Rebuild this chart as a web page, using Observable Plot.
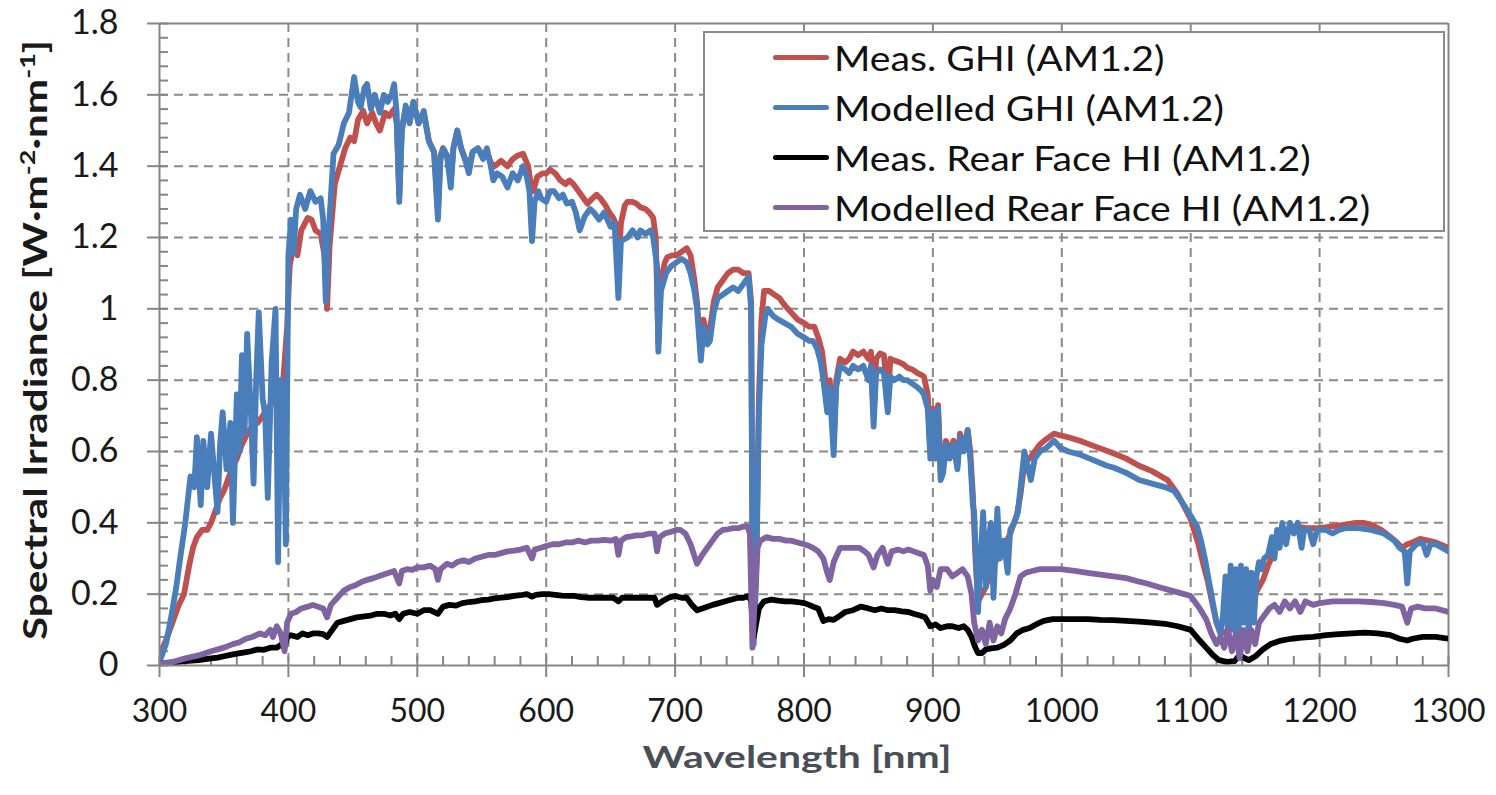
<!DOCTYPE html>
<html>
<head>
<meta charset="utf-8">
<script src="https://cdn.jsdelivr.net/npm/d3@7"></script>
<script src="https://cdn.jsdelivr.net/npm/@observablehq/plot@0.6"></script>
<style>
  html, body { margin: 0; padding: 0; background: #fff; }
  #wrap { position: relative; width: 1496px; height: 795px; font-family: Lato, "Open Sans", sans-serif; }
  #legend { position: absolute; left: 703px; top: 31px; width: 738px; height: 197px; background: #fff; border: 2px solid #8a8a8a; box-sizing: content-box; }
  .row { position: absolute; left: 68px; height: 40px; display: flex; align-items: center; font-size: 35px; color: #111; white-space: nowrap; }
  .row span { display: inline-block; transform: scaleX(1.12); transform-origin: left center; }
  .sw { width: 56px; height: 5px; border-radius: 3px; margin-right: 5px; }
</style>
</head>
<body>
<div id="wrap"></div>
<script>
// ---- data (wavelength nm, spectral irradiance W·m^-2·nm^-1) ----
const seriesNames = ["Meas. GHI (AM1.2)", "Modelled GHI (AM1.2)", "Meas. Rear Face HI (AM1.2)", "Modelled Rear Face HI (AM1.2)"];
const seriesColors = ["#c0504d", "#4a7ebb", "#000000", "#8064a2"];
const xTicks = [300, 400, 500, 600, 700, 800, 900, 1000, 1100, 1200, 1300];
const yTicks = [0, 0.2, 0.4, 0.6, 0.8, 1, 1.2, 1.4, 1.6, 1.8];
const yTickLabels = ["0", "0.2", "0.4", "0.6", "0.8", "1", "1.2", "1.4", "1.6", "1.8"];

const measGHI = [[300,0.03],[305,0.07],[310,0.12],[315,0.17],[319,0.2],[323,0.28],[326,0.33],[329,0.36],[333,0.38],[337,0.38],[340,0.4],[344,0.44],[347,0.47],[350,0.49],[353,0.52],[356,0.55],[360,0.58],[364,0.62],[368,0.65],[372,0.67],[376,0.68],[380,0.7],[384,0.72],[388,0.74],[392,0.76],[396,0.8],[399,0.95],[401,1.12],[404,1.18],[407,1.15],[410,1.22],[415,1.255],[418,1.25],[421,1.22],[425,1.21],[428,1.15],[430,1.0],[432,1.18],[436,1.35],[440,1.4],[444,1.45],[448,1.48],[451,1.47],[454,1.53],[458,1.555],[461,1.52],[465,1.55],[468,1.52],[471,1.5],[475,1.55],[478,1.54],[482,1.56],[484,1.52],[486,1.32],[488,1.5],[491,1.56],[494,1.53],[497,1.58],[501,1.52],[505,1.55],[509,1.47],[513,1.44],[516,1.27],[518,1.43],[520,1.45],[523,1.43],[526,1.36],[528,1.45],[531,1.5],[534,1.45],[537,1.42],[540,1.4],[543,1.44],[547,1.45],[551,1.43],[554,1.44],[557,1.41],[560,1.4],[565,1.415],[570,1.4],[574,1.42],[578,1.43],[582,1.435],[586,1.4],[588,1.35],[590,1.33],[593,1.37],[597,1.38],[600,1.38],[603,1.39],[607,1.38],[611,1.36],[615,1.35],[618,1.36],[621,1.35],[625,1.33],[629,1.31],[632,1.295],[636,1.31],[639,1.32],[642,1.31],[646,1.29],[649,1.27],[652,1.255],[655,1.23],[656,1.12],[658,1.24],[661,1.29],[663,1.3],[667,1.3],[670,1.295],[673,1.285],[677,1.28],[680,1.27],[683,1.255],[685,1.2],[687,0.9],[689,1.08],[692,1.13],[694,1.145],[698,1.15],[701,1.15],[705,1.16],[709,1.17],[712,1.15],[715,1.08],[717,1.02],[720,0.87],[722,0.97],[725,0.92],[727,0.94],[730,1.02],[733,1.06],[737,1.08],[741,1.1],[745,1.11],[749,1.11],[753,1.1],[757,1.1],[759,1.02],[760,0.35],[761,0.1],[763,0.3],[765,0.75],[767,0.97],[769,1.05],[773,1.05],[777,1.04],[781,1.03],[785,1.01],[790,0.99],[795,0.97],[800,0.96],[804,0.95],[808,0.95],[811,0.92],[814,0.88],[816,0.82],[818,0.74],[820,0.8],[823,0.62],[825,0.8],[828,0.86],[832,0.85],[835,0.86],[838,0.88],[842,0.87],[846,0.88],[850,0.86],[852,0.88],[854,0.7],[856,0.86],[859,0.875],[862,0.87],[865,0.74],[867,0.86],[870,0.855],[874,0.85],[877,0.845],[880,0.835],[884,0.83],[888,0.82],[891,0.815],[893,0.81],[896,0.76],[898,0.6],[900,0.72],[902,0.6],[904,0.73],[906,0.54],[908,0.56],[910,0.63],[913,0.6],[916,0.63],[919,0.56],[921,0.65],[924,0.61],[927,0.66],[929,0.6],[931,0.48],[933,0.3],[935,0.18],[938,0.2],[941,0.22],[945,0.27],[950,0.3],[955,0.33],[960,0.37],[965,0.42],[968,0.48],[971,0.57],[975,0.58],[979,0.6],[983,0.62],[988,0.635],[994,0.65],[999,0.645],[1005,0.64],[1014,0.63],[1025,0.615],[1040,0.595],[1050,0.58],[1060,0.56],[1070,0.545],[1082,0.52],[1090,0.48],[1100,0.41],[1106,0.34],[1110,0.28],[1113,0.24],[1117,0.17],[1120,0.12],[1124,0.09],[1130,0.1],[1135,0.12],[1140,0.14],[1145,0.17],[1150,0.2],[1156,0.24],[1160,0.28],[1165,0.32],[1170,0.36],[1175,0.38],[1180,0.39],[1190,0.385],[1200,0.385],[1210,0.39],[1220,0.395],[1228,0.4],[1234,0.4],[1240,0.395],[1248,0.38],[1255,0.36],[1260,0.345],[1264,0.33],[1268,0.34],[1272,0.345],[1278,0.355],[1284,0.35],[1290,0.345],[1300,0.33]];

const modGHI = [[300,0.01],[305,0.06],[309,0.135],[313,0.22],[316,0.3],[320,0.4],[324,0.53],[327,0.5],[329,0.64],[332,0.45],[334,0.63],[337,0.5],[340,0.65],[345,0.43],[347,0.62],[349,0.71],[352,0.55],[355,0.68],[357,0.4],[360,0.76],[362,0.6],[364,0.87],[366,0.65],[368,0.93],[371,0.7],[373,0.51],[375,0.8],[377,0.99],[380,0.75],[382,0.7],[384,0.47],[387,0.85],[390,1.0],[392,0.29],[394,0.8],[396,0.79],[398,0.34],[400,1.15],[402,1.25],[404,1.155],[406,1.28],[409,1.32],[413,1.28],[417,1.33],[421,1.3],[425,1.31],[427,1.25],[429,1.02],[431,1.2],[435,1.435],[439,1.46],[443,1.52],[447,1.55],[451,1.65],[454,1.58],[456,1.565],[459,1.62],[461,1.63],[464,1.56],[467,1.6],[471,1.55],[474,1.6],[477,1.58],[480,1.6],[482,1.63],[484,1.55],[486,1.3],[488,1.5],[491,1.57],[494,1.52],[497,1.58],[501,1.52],[505,1.555],[509,1.47],[513,1.44],[516,1.25],[518,1.42],[520,1.45],[523,1.43],[526,1.34],[528,1.45],[531,1.5],[534,1.45],[537,1.42],[540,1.38],[543,1.44],[547,1.45],[551,1.42],[554,1.45],[557,1.4],[559,1.36],[562,1.38],[566,1.37],[570,1.34],[574,1.38],[578,1.36],[582,1.4],[585,1.37],[587,1.33],[589,1.19],[591,1.3],[594,1.33],[596,1.31],[600,1.3],[603,1.33],[606,1.33],[610,1.31],[613,1.32],[616,1.295],[620,1.3],[623,1.27],[626,1.22],[630,1.26],[634,1.28],[637,1.27],[641,1.25],[645,1.27],[650,1.23],[653,1.24],[656,1.03],[658,1.19],[663,1.2],[667,1.22],[671,1.2],[673,1.22],[677,1.21],[681,1.22],[683,1.2],[686,1.12],[687,0.88],[689,1.05],[693,1.1],[697,1.12],[701,1.13],[705,1.14],[709,1.13],[712,1.1],[715,1.05],[717,1.0],[720,0.855],[722,0.95],[725,0.9],[727,0.91],[730,0.99],[733,1.03],[737,1.04],[741,1.05],[745,1.06],[749,1.05],[753,1.07],[757,1.09],[759,1.0],[760,0.3],[761,0.06],[763,0.25],[765,0.7],[767,0.9],[770,0.98],[772,1.0],[776,0.98],[780,0.97],[785,0.96],[790,0.95],[795,0.93],[800,0.92],[804,0.91],[807,0.91],[810,0.89],[813,0.85],[815,0.8],[818,0.71],[820,0.78],[823,0.59],[825,0.78],[828,0.84],[832,0.83],[835,0.82],[838,0.84],[842,0.83],[846,0.84],[850,0.8],[852,0.84],[854,0.67],[856,0.82],[859,0.83],[862,0.82],[865,0.71],[867,0.81],[870,0.8],[874,0.81],[877,0.8],[880,0.8],[884,0.79],[888,0.78],[891,0.77],[893,0.76],[896,0.72],[898,0.58],[900,0.71],[902,0.58],[904,0.72],[906,0.52],[908,0.54],[910,0.62],[913,0.58],[916,0.62],[919,0.55],[921,0.64],[924,0.6],[927,0.66],[929,0.58],[931,0.45],[932,0.43],[934,0.25],[935,0.15],[937,0.3],[939,0.43],[941,0.22],[943,0.35],[945,0.4],[947,0.19],[949,0.35],[950,0.44],[952,0.3],[955,0.35],[958,0.26],[960,0.38],[963,0.4],[966,0.43],[968,0.5],[971,0.6],[974,0.55],[976,0.52],[979,0.58],[983,0.6],[988,0.61],[994,0.63],[999,0.61],[1005,0.6],[1015,0.59],[1025,0.575],[1035,0.56],[1040,0.555],[1050,0.54],[1060,0.52],[1070,0.51],[1080,0.5],[1087,0.49],[1093,0.46],[1100,0.42],[1105,0.39],[1108,0.35],[1111,0.3],[1114,0.24],[1117,0.18],[1120,0.12],[1123,0.09],[1125,0.14],[1127,0.25],[1129,0.08],[1131,0.28],[1133,0.1],[1135,0.27],[1137,0.07],[1139,0.28],[1141,0.12],[1143,0.27],[1145,0.08],[1147,0.26],[1149,0.12],[1151,0.25],[1153,0.29],[1155,0.27],[1157,0.3],[1160,0.31],[1163,0.36],[1165,0.3],[1167,0.38],[1169,0.33],[1171,0.4],[1174,0.34],[1177,0.4],[1180,0.37],[1183,0.4],[1186,0.33],[1188,0.38],[1192,0.38],[1195,0.34],[1198,0.38],[1205,0.38],[1210,0.37],[1215,0.38],[1220,0.385],[1230,0.385],[1240,0.38],[1250,0.37],[1258,0.35],[1262,0.33],[1266,0.32],[1268,0.23],[1270,0.32],[1275,0.34],[1280,0.345],[1283,0.31],[1286,0.34],[1290,0.34],[1295,0.33],[1300,0.32]];

const measRear = [[300,0.005],[310,0.008],[320,0.012],[330,0.015],[340,0.02],[345,0.022],[350,0.026],[355,0.03],[360,0.033],[365,0.036],[371,0.04],[376,0.045],[381,0.044],[386,0.05],[391,0.05],[395,0.06],[397,0.05],[399,0.08],[402,0.085],[407,0.08],[411,0.09],[415,0.085],[419,0.09],[423,0.09],[427,0.088],[430,0.08],[434,0.1],[438,0.12],[443,0.125],[448,0.13],[453,0.135],[459,0.138],[464,0.14],[469,0.145],[474,0.145],[479,0.14],[483,0.145],[486,0.13],[489,0.145],[494,0.15],[500,0.145],[505,0.155],[510,0.155],[516,0.145],[520,0.165],[525,0.17],[530,0.168],[535,0.175],[540,0.178],[545,0.18],[550,0.183],[555,0.185],[560,0.188],[565,0.19],[570,0.192],[575,0.195],[580,0.197],[585,0.2],[589,0.193],[592,0.198],[597,0.2],[602,0.2],[607,0.198],[612,0.196],[617,0.195],[622,0.195],[627,0.192],[632,0.19],[637,0.19],[642,0.19],[647,0.19],[652,0.19],[656,0.18],[659,0.19],[664,0.19],[669,0.19],[674,0.19],[679,0.19],[684,0.19],[686,0.17],[690,0.18],[695,0.19],[700,0.195],[705,0.19],[709,0.19],[713,0.17],[717,0.155],[721,0.16],[725,0.165],[729,0.17],[734,0.175],[739,0.18],[744,0.185],[749,0.19],[753,0.19],[757,0.195],[759,0.18],[761,0.08],[763,0.12],[765,0.16],[769,0.18],[775,0.185],[780,0.182],[785,0.18],[790,0.18],[795,0.178],[800,0.175],[804,0.17],[807,0.165],[811,0.16],[815,0.125],[819,0.13],[823,0.128],[828,0.14],[832,0.15],[838,0.155],[844,0.165],[850,0.16],[855,0.155],[860,0.16],[865,0.155],[870,0.155],[876,0.152],[881,0.15],[885,0.145],[890,0.14],[894,0.135],[898,0.11],[902,0.115],[906,0.105],[911,0.11],[915,0.11],[920,0.105],[924,0.11],[927,0.1],[930,0.08],[933,0.05],[935,0.035],[938,0.035],[941,0.045],[945,0.048],[950,0.05],[955,0.058],[960,0.07],[965,0.09],[970,0.1],[975,0.105],[980,0.115],[986,0.125],[993,0.13],[1000,0.13],[1010,0.13],[1020,0.13],[1030,0.128],[1040,0.127],[1050,0.125],[1060,0.123],[1070,0.12],[1080,0.117],[1090,0.11],[1100,0.1],[1107,0.07],[1112,0.05],[1117,0.03],[1122,0.015],[1128,0.01],[1134,0.012],[1138,0.03],[1141,0.022],[1145,0.015],[1150,0.025],[1156,0.045],[1162,0.06],[1170,0.07],[1178,0.075],[1186,0.078],[1195,0.08],[1205,0.085],[1215,0.088],[1225,0.09],[1235,0.092],[1245,0.09],[1255,0.085],[1262,0.075],[1268,0.07],[1272,0.075],[1280,0.08],[1290,0.08],[1300,0.075]];

const modRear = [[300,0.005],[310,0.01],[320,0.02],[332,0.03],[340,0.04],[350,0.05],[357,0.06],[362,0.065],[367,0.075],[372,0.08],[378,0.09],[382,0.085],[386,0.1],[388,0.08],[391,0.11],[394,0.09],[397,0.04],[399,0.12],[402,0.145],[406,0.15],[410,0.16],[415,0.165],[419,0.17],[423,0.165],[427,0.16],[430,0.135],[433,0.17],[438,0.19],[443,0.21],[448,0.22],[452,0.225],[457,0.235],[461,0.24],[466,0.245],[470,0.25],[474,0.255],[478,0.26],[482,0.265],[486,0.23],[488,0.265],[492,0.27],[496,0.268],[500,0.275],[505,0.275],[510,0.28],[514,0.27],[516,0.24],[518,0.27],[523,0.285],[527,0.28],[531,0.29],[536,0.295],[540,0.29],[545,0.3],[550,0.305],[555,0.31],[560,0.31],[565,0.315],[570,0.32],[575,0.322],[580,0.325],[585,0.33],[589,0.3],[591,0.325],[596,0.33],[600,0.335],[605,0.34],[610,0.34],[615,0.345],[620,0.345],[625,0.35],[630,0.345],[635,0.35],[640,0.35],[645,0.352],[650,0.35],[654,0.355],[656,0.31],[658,0.35],[662,0.36],[666,0.362],[670,0.365],[675,0.365],[680,0.37],[684,0.37],[686,0.32],[688,0.36],[692,0.37],[697,0.375],[701,0.38],[704,0.38],[708,0.37],[712,0.34],[717,0.285],[721,0.31],[725,0.33],[729,0.35],[733,0.37],[737,0.38],[741,0.382],[745,0.385],[749,0.385],[753,0.39],[756,0.39],[758,0.37],[760,0.05],[762,0.2],[764,0.33],[766,0.35],[771,0.36],[776,0.355],[781,0.355],[786,0.35],[790,0.35],[795,0.345],[800,0.34],[804,0.335],[807,0.33],[811,0.32],[815,0.3],[818,0.26],[820,0.24],[823,0.29],[828,0.33],[832,0.33],[838,0.33],[843,0.33],[847,0.32],[850,0.31],[854,0.275],[857,0.31],[861,0.33],[865,0.285],[868,0.32],[873,0.325],[877,0.32],[881,0.325],[885,0.32],[889,0.315],[893,0.31],[896,0.28],[898,0.21],[900,0.24],[903,0.22],[906,0.27],[911,0.27],[915,0.25],[919,0.26],[923,0.27],[927,0.25],[930,0.2],[932,0.12],[935,0.07],[938,0.1],[941,0.06],[944,0.12],[947,0.07],[950,0.11],[953,0.09],[956,0.13],[960,0.16],[964,0.2],[968,0.25],[972,0.26],[977,0.265],[983,0.27],[990,0.27],[999,0.27],[1010,0.265],[1020,0.26],[1030,0.255],[1040,0.25],[1050,0.245],[1060,0.235],[1066,0.23],[1075,0.22],[1085,0.21],[1095,0.2],[1100,0.195],[1107,0.16],[1112,0.13],[1116,0.09],[1120,0.06],[1123,0.08],[1126,0.05],[1129,0.1],[1132,0.04],[1135,0.09],[1138,0.02],[1141,0.1],[1144,0.04],[1147,0.1],[1150,0.06],[1153,0.12],[1157,0.14],[1161,0.16],[1165,0.17],[1169,0.15],[1173,0.18],[1177,0.16],[1181,0.18],[1185,0.15],[1189,0.18],[1195,0.17],[1200,0.175],[1210,0.18],[1220,0.18],[1230,0.18],[1240,0.178],[1250,0.175],[1258,0.17],[1264,0.165],[1268,0.12],[1271,0.16],[1276,0.165],[1282,0.16],[1290,0.16],[1300,0.15]];

const minorX = d3.range(300, 1301, 20);
const minorY = d3.range(0, 46).map(i => i * 0.04);

// ---- layout ----
const W = 1496, H = 795;
const mL = 159, mR = 48, mT = 23, mB = 130;
const innerW = W - mL - mR, innerH = H - mT - mB;
const axisGray = "#868686";
const gridGray = "#8a8a8a";

const seriesData = [measGHI, modGHI, measRear, modRear];

const chart = Plot.plot({
  width: W, height: H,
  marginLeft: mL, marginRight: mR, marginTop: mT, marginBottom: mB,
  style: { fontFamily: "Lato, 'Open Sans', sans-serif", background: "#fff", color: "#000" },
  x: { domain: [300, 1300] },
  y: { domain: [0, 1.8] },
  marks: [
    // dashed grid
    Plot.gridX(xTicks.slice(1, -1), { stroke: gridGray, strokeOpacity: 1, strokeWidth: 2, strokeDasharray: "9,6" }),
    Plot.gridY(yTicks.slice(1, -1), { stroke: gridGray, strokeOpacity: 1, strokeWidth: 2, strokeDasharray: "9,6" }),
    // frame lines
    Plot.ruleY([1.8], { stroke: axisGray, strokeWidth: 2 }),
    Plot.ruleX([1300], { stroke: axisGray, strokeWidth: 2 }),
    // minor ticks (inside)
    Plot.tickX(minorX, { x: d => d, stroke: axisGray, strokeWidth: 2, insetTop: innerH - 9 }),
    Plot.tickY(minorY, { y: d => d, stroke: axisGray, strokeWidth: 2, insetRight: innerW - 9 }),
    // series
    ...seriesData.map((data, i) => Plot.line(data, {
      x: d => d[0], y: d => d[1], stroke: seriesColors[i], strokeWidth: 5.8,
      strokeLinejoin: "round", strokeLinecap: "round", clip: true
    })),
    // axes
    Plot.ruleY([0], { stroke: axisGray, strokeWidth: 2 }),
    Plot.ruleX([300], { stroke: axisGray, strokeWidth: 2 }),
    Plot.axisX(xTicks, { tickSize: 12, tickPadding: 22, stroke: axisGray, strokeWidth: 2, fill: "#1a1a1a", fontSize: 32, tickFormat: d => String(d), label: null }),
    Plot.axisY(yTicks, { tickSize: 12, tickPadding: 29, stroke: axisGray, strokeWidth: 2, fill: "#1a1a1a", fontSize: 34, tickFormat: (d, i) => yTickLabels[i], label: null })
  ]
});

const wrap = document.getElementById("wrap");
wrap.appendChild(chart);

// axis titles
const svg = d3.select(chart);
svg.append("text")
  .attr("x", 797).attr("y", 768)
  .attr("text-anchor", "middle")
  .attr("textLength", 309).attr("lengthAdjust", "spacingAndGlyphs")
  .attr("font-family", "Lato, 'Open Sans', sans-serif")
  .attr("font-weight", "bold").attr("font-size", 31).attr("fill", "#4a4f57")
  .text("Wavelength [nm]");

const yt = svg.append("text")
  .attr("transform", `translate(47, 340) rotate(-90)`)
  .attr("text-anchor", "middle")
  .attr("textLength", 600).attr("lengthAdjust", "spacingAndGlyphs")
  .attr("font-family", "Lato, 'Open Sans', sans-serif")
  .attr("font-weight", "bold").attr("font-size", 33).attr("fill", "#1a1a1a");
yt.append("tspan").text("Spectral Irradiance [W·m");
yt.append("tspan").attr("baseline-shift", "super").attr("font-size", 21).text("-2");
yt.append("tspan").text("·nm");
yt.append("tspan").attr("baseline-shift", "super").attr("font-size", 21).text("-1");
yt.append("tspan").text("]");

// legend
const legend = document.createElement("div");
legend.id = "legend";
const rowTops = [4, 54, 104, 154];
seriesNames.forEach((name, i) => {
  const row = document.createElement("div");
  row.className = "row";
  row.style.top = rowTops[i] + "px";
  const sw = document.createElement("div");
  sw.className = "sw";
  sw.style.background = seriesColors[i];
  const t = document.createElement("span");
  t.textContent = name;
  row.appendChild(sw); row.appendChild(t);
  legend.appendChild(row);
});
wrap.appendChild(legend);
</script>
</body>
</html>
